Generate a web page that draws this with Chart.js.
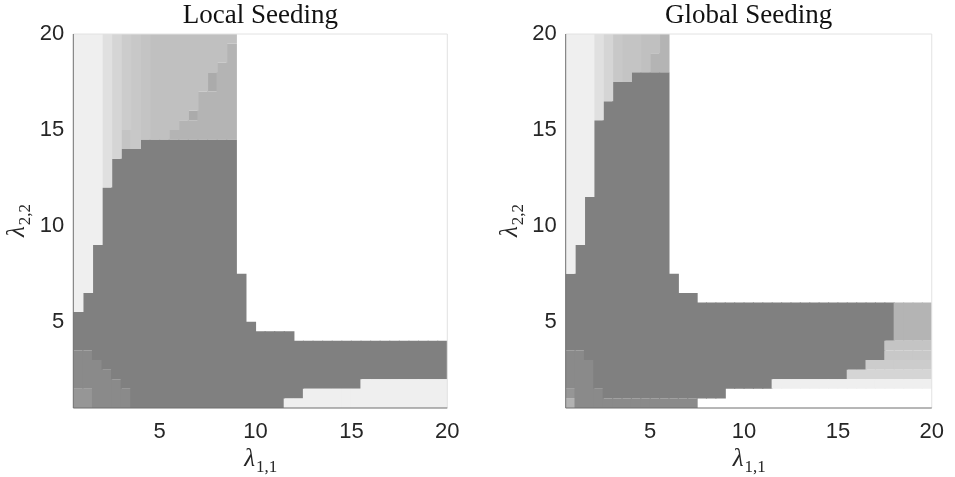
<!DOCTYPE html>
<html>
<head>
<meta charset="utf-8">
<script src="https://cdn.jsdelivr.net/npm/chart.js@4.4.1/dist/chart.umd.min.js"></script>
<style>
  html, body { margin: 0; padding: 0; background: #fff; }
  #wrap { position: relative; width: 955px; height: 477px; overflow: hidden; }
  #wrap canvas { position: absolute; top: 0; }
</style>
</head>
<body>
<div id="wrap">
  <canvas id="localChart" width="478" height="477" style="left:0;width:478px;height:477px"></canvas>
  <canvas id="globalChart" width="477" height="477" style="left:478px;width:477px;height:477px"></canvas>
</div>
<script>
// Cell centres along lambda_{1,1} (grid step 0.5, from 0.5 to 20)
const lambdaCenters = [0.75, 1.25, 1.75, 2.25, 2.75, 3.25, 3.75, 4.25, 4.75, 5.25,
  5.75, 6.25, 6.75, 7.25, 7.75, 8.25, 8.75, 9.25, 9.75, 10.25, 10.75, 11.25, 11.75,
  12.25, 12.75, 13.25, 13.75, 14.25, 14.75, 15.25, 15.75, 16.25, 16.75, 17.25,
  17.75, 18.25, 18.75, 19.25, 19.75];

const tickValues = [5, 10, 15, 20];
const panelTitles = ['Local Seeding', 'Global Seeding'];

// Grey level of each region; '-' means empty (white)
const shadeKeys = ['a', 'b', 'c', 'd', 'k', 'e', 'f', 'g', 'h', 'D', 'm', 'n', 'o'];
const shadeColors = {
  a: '#efefef', b: '#e0e0e0', c: '#d5d5d5', d: '#cccccc', k: '#c8c8c8',
  e: '#c4c4c4', f: '#c0c0c0', g: '#b4b4b4', h: '#ababab', D: '#808080',
  m: '#8a8a8a', n: '#969696', o: '#b2b2b2'
};

// One entry per lambda_{1,1} column: runs [shade, upper lambda_{2,2}] from 0.5 upwards
const localSeedingCells = [
  [['n', 1.5], ['m', 3.5], ['D', 5.5], ['a', 20]],
  [['n', 1.5], ['m', 3.5], ['D', 6.5], ['a', 20]],
  [['m', 3], ['D', 9], ['a', 20]],
  [['m', 2.5], ['D', 12], ['b', 20]],
  [['m', 2], ['D', 13.5], ['c', 20]],
  [['m', 1.5], ['D', 14], ['e', 15], ['d', 20]],
  [['D', 14], ['k', 20]],
  [['D', 14.5], ['e', 20]],
  [['D', 14.5], ['f', 20]],
  [['D', 14.5], ['f', 20]],
  [['D', 14.5], ['g', 15], ['f', 20]],
  [['D', 14.5], ['g', 15.5], ['f', 20]],
  [['D', 14.5], ['g', 15.5], ['h', 16], ['f', 20]],
  [['D', 14.5], ['g', 17], ['f', 20]],
  [['D', 14.5], ['g', 17], ['h', 18], ['f', 20]],
  [['D', 14.5], ['g', 18.5], ['f', 20]],
  [['D', 14.5], ['g', 19.5], ['f', 20]],
  [['D', 7.5]],
  [['D', 5]],
  [['D', 4.5]],
  [['D', 4.5]],
  [['D', 4.5]],
  [['a', 1], ['D', 4.5]],
  [['a', 1], ['D', 4]],
  [['a', 1.5], ['D', 4]],
  [['a', 1.5], ['D', 4]],
  [['a', 1.5], ['D', 4]],
  [['a', 1.5], ['D', 4]],
  [['a', 1.5], ['D', 4]],
  [['a', 1.5], ['D', 4]],
  [['a', 2], ['D', 4]],
  [['a', 2], ['D', 4]],
  [['a', 2], ['D', 4]],
  [['a', 2], ['D', 4]],
  [['a', 2], ['D', 4]],
  [['a', 2], ['D', 4]],
  [['a', 2], ['D', 4]],
  [['a', 2], ['D', 4]],
  [['a', 2], ['D', 4]]
];

const globalSeedingCells = [
  [['o', 1], ['n', 1.5], ['m', 3.5], ['D', 7.5], ['a', 20]],
  [['m', 3.5], ['D', 9], ['a', 20]],
  [['m', 3], ['D', 11.5], ['a', 20]],
  [['m', 1.5], ['D', 15.5], ['b', 20]],
  [['m', 1], ['D', 16.5], ['c', 20]],
  [['m', 1], ['D', 17.5], ['k', 20]],
  [['m', 1], ['D', 17.5], ['e', 20]],
  [['m', 1], ['D', 18], ['e', 20]],
  [['m', 1], ['D', 18], ['f', 20]],
  [['m', 1], ['D', 18], ['g', 19], ['f', 20]],
  [['m', 1], ['D', 18], ['g', 20]],
  [['m', 1], ['D', 7.5]],
  [['m', 1], ['D', 6.5]],
  [['m', 1], ['D', 6.5]],
  [['-', 1], ['D', 6]],
  [['-', 1], ['D', 6]],
  [['-', 1], ['D', 6]],
  [['-', 1.5], ['D', 6]],
  [['-', 1.5], ['D', 6]],
  [['-', 1.5], ['D', 6]],
  [['-', 1.5], ['D', 6]],
  [['-', 1.5], ['D', 6]],
  [['-', 1.5], ['a', 2], ['D', 6]],
  [['-', 1.5], ['a', 2], ['D', 6]],
  [['-', 1.5], ['a', 2], ['D', 6]],
  [['-', 1.5], ['a', 2], ['D', 6]],
  [['-', 1.5], ['a', 2], ['D', 6]],
  [['-', 1.5], ['a', 2], ['D', 6]],
  [['-', 1.5], ['a', 2], ['D', 6]],
  [['-', 1.5], ['a', 2], ['D', 6]],
  [['-', 1.5], ['a', 2], ['c', 2.5], ['D', 6]],
  [['-', 1.5], ['a', 2], ['c', 2.5], ['D', 6]],
  [['-', 1.5], ['a', 2], ['c', 2.5], ['d', 3], ['D', 6]],
  [['-', 1.5], ['a', 2], ['c', 2.5], ['d', 3], ['D', 6]],
  [['-', 1.5], ['a', 2], ['c', 2.5], ['d', 3], ['k', 3.5], ['e', 4], ['D', 6]],
  [['-', 1.5], ['a', 2], ['c', 2.5], ['d', 3], ['k', 3.5], ['e', 4], ['g', 6]],
  [['-', 1.5], ['a', 2], ['c', 2.5], ['d', 3], ['k', 3.5], ['e', 4], ['g', 6]],
  [['-', 1.5], ['a', 2], ['c', 2.5], ['d', 3], ['k', 3.5], ['e', 4], ['g', 6]],
  [['-', 1.5], ['a', 2], ['c', 2.5], ['d', 3], ['k', 3.5], ['e', 4], ['g', 6]]
];

// one floating-bar dataset per grey level
function buildDatasets(cells) {
  return shadeKeys.map(key => {
    const data = [];
    cells.forEach((runs, i) => {
      let from = 0.5;
      runs.forEach(([shade, to]) => {
        if (shade === key) data.push({ x: lambdaCenters[i], y: [from, to] });
        from = to;
      });
    });
    return {
      label: key,
      data,
      backgroundColor: shadeColors[key],
      borderWidth: 0,
      grouped: false,
      barPercentage: 1,
      categoryPercentage: 1.12
    };
  }).filter(ds => ds.data.length > 0);
}

function drawLambda(ctx, cx, baseline, sub) {
  ctx.font = 'italic 25px "Liberation Serif"';
  const w1 = ctx.measureText('λ').width;
  ctx.font = '17px "Liberation Serif"';
  const w2 = ctx.measureText(sub).width;
  const x0 = cx - (w1 + w2) / 2;
  ctx.textAlign = 'left';
  ctx.textBaseline = 'alphabetic';
  ctx.font = 'italic 25px "Liberation Serif"';
  ctx.fillText('λ', x0, baseline);
  ctx.font = '17px "Liberation Serif"';
  ctx.fillText(sub, x0 + w1 + 1, baseline + 6);
}

// axes frame, panel title and lambda labels
const panelDecor = {
  id: 'panelDecor',
  afterDatasetsDraw(chart, args, opts) {
    const { ctx, chartArea: a } = chart;
    ctx.save();
    ctx.lineWidth = 1;
    ctx.strokeStyle = '#e2e2e2';
    ctx.beginPath();
    ctx.moveTo(a.left, a.top);
    ctx.lineTo(a.right, a.top);
    ctx.lineTo(a.right, a.bottom);
    ctx.stroke();
    ctx.strokeStyle = '#6e6e6e';
    ctx.beginPath();
    ctx.moveTo(a.left, a.top);
    ctx.lineTo(a.left, a.bottom);
    ctx.lineTo(a.right, a.bottom);
    ctx.stroke();
    ctx.restore();
  },
  afterDraw(chart, args, opts) {
    const { ctx, chartArea: a } = chart;
    const midX = (a.left + a.right) / 2;
    const midY = (a.top + a.bottom) / 2;
    ctx.save();
    ctx.fillStyle = '#111';
    ctx.font = '27px "Liberation Serif"';
    ctx.textAlign = 'center';
    ctx.textBaseline = 'alphabetic';
    ctx.fillText(opts.title, midX, a.top - 11);

    ctx.fillStyle = '#262626';
    drawLambda(ctx, midX, a.bottom + 58, '1,1');
    ctx.translate(a.left - 49, midY);
    ctx.rotate(-Math.PI / 2);
    drawLambda(ctx, 0, 0, '2,2');
    ctx.restore();
  }
};

function axisOptions(fitSize, isX) {
  return {
    type: 'linear',
    min: 0.5,
    max: 20,
    offset: false,
    grid: { display: false, drawTicks: false },
    border: { display: false },
    ticks: {
      color: '#262626',
      font: { family: 'Liberation Sans', size: 22 },
      padding: isX ? 11 : 9,
      maxRotation: 0
    },
    afterBuildTicks: scale => {
      scale.ticks = tickValues.map(v => ({ value: v }));
    },
    afterFit: scale => {
      if (isX) scale.height = fitSize;
      else scale.width = fitSize;
    }
  };
}

function makePanel(canvasId, cells, title, padLeft, padRight) {
  const ctx = document.getElementById(canvasId).getContext('2d');
  return new Chart(ctx, {
    type: 'bar',
    data: { datasets: buildDatasets(cells) },
    options: {
      responsive: false,
      animation: false,
      events: [],
      layout: { padding: { top: 34, right: padRight, bottom: 0, left: padLeft } },
      scales: {
        x: axisOptions(69, true),
        y: axisOptions(73.3, false)
      },
      plugins: {
        legend: { display: false },
        tooltip: { enabled: false },
        panelDecor: { title }
      }
    },
    plugins: [panelDecor]
  });
}

makePanel('localChart', localSeedingCells, panelTitles[0], 0, 30.7);
makePanel('globalChart', globalSeedingCells, panelTitles[1], 14.4, 14.7);
</script>
</body>
</html>
